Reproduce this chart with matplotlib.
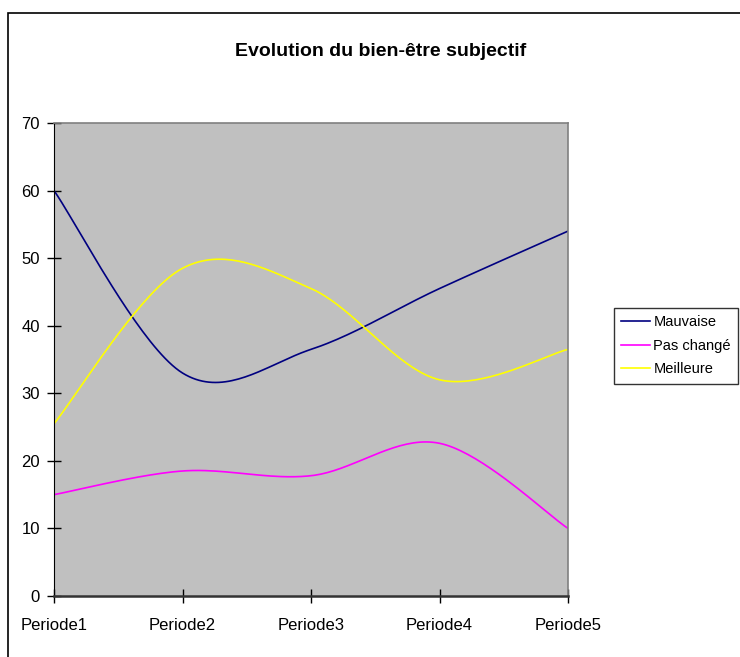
import numpy as np
import matplotlib
matplotlib.use('Agg')
import matplotlib.pyplot as plt
from matplotlib import font_manager
import matplotlib.patches as patches

# data
periods = ['Periode1', 'Periode2', 'Periode3', 'Periode4', 'Periode5']
mauvaise = [60, 33, 36.5, 45.5, 54]
pas_change = [15, 18.5, 17.8, 22.6, 10]
meilleure = [25.5, 48.5, 45.5, 32, 36.5]
series_names = ['Mauvaise', 'Pas changé', 'Meilleure']
series_colors = ['#000080', '#FF00FF', '#FFFF00']
yticks = [0, 10, 20, 30, 40, 50, 60, 70]

# pick a narrow Arial-like font if there is one
names = {f.name for f in font_manager.fontManager.ttflist}
family = 'Liberation Sans Narrow' if 'Liberation Sans Narrow' in names else 'Liberation Sans'
plt.rcParams['font.family'] = [family, 'DejaVu Sans']


def smooth(xs, ys, n=40):
    """Excel-style smoothed line: cubic Bezier with Catmull-Rom control points"""
    xs = np.asarray(xs, float)
    ys = np.asarray(ys, float)
    out_x, out_y = [], []
    t = np.linspace(0, 1, n)
    for i in range(len(xs) - 1):
        i0 = max(i - 1, 0)
        i3 = min(i + 2, len(xs) - 1)
        p0 = np.array([xs[i], ys[i]])
        p3 = np.array([xs[i + 1], ys[i + 1]])
        c1 = p0 + (p3 - np.array([xs[i0], ys[i0]])) / 6
        c2 = p3 - (np.array([xs[i3], ys[i3]]) - p0) / 6
        pts = ((1 - t)[:, None] ** 3 * p0 + 3 * ((1 - t) ** 2 * t)[:, None] * c1
               + 3 * ((1 - t) * t ** 2)[:, None] * c2 + (t ** 3)[:, None] * p3)
        out_x.extend(pts[:, 0])
        out_y.extend(pts[:, 1])
    return out_x, out_y


fig = plt.figure(figsize=(7.4, 6.57), dpi=100)
ax = fig.add_axes([54 / 740, 1 - 596 / 657, (568 - 54) / 740, (596 - 123) / 657])
ax.set_facecolor('#C0C0C0')

x = np.arange(len(periods))
for vals, name, col in zip([mauvaise, pas_change, meilleure], series_names, series_colors):
    sx, sy = smooth(x, vals)
    ax.plot(sx, sy, color=col, lw=1.2, label=name)

ax.set_xlim(0, len(periods) - 1)
ax.set_ylim(0, 70)
ax.set_xticks(x)
ax.set_xticklabels(periods)
ax.set_yticks(yticks)
ax.tick_params(axis='x', direction='inout', length=10, width=1, pad=11, labelsize=12)
ax.tick_params(axis='y', direction='inout', length=10, width=1, pad=5, labelsize=12)

for side in ['top', 'right']:
    ax.spines[side].set_color('#808080')
    ax.spines[side].set_linewidth(1.2)
ax.spines['left'].set_color('black')
ax.spines['bottom'].set_color('#333333')
ax.spines['bottom'].set_linewidth(1.8)

fig.text(381 / 740, 1 - 52 / 657, 'Evolution du bien-être subjectif',
         ha='center', va='center', fontsize=14, fontweight='bold')

leg = fig.legend(loc='upper left', bbox_to_anchor=(614 / 740, 1 - 308 / 657),
                 frameon=True, fancybox=False, fontsize=10.5, handlelength=2.0,
                 handletextpad=0.2, borderpad=0.5, labelspacing=0.65, borderaxespad=0)
leg.get_frame().set_edgecolor('black')
leg.get_frame().set_linewidth(1)

# outer chart border, runs past the right and bottom edges
fig.patches.append(patches.Rectangle((8 / 740, -0.05), 1.1, 1 - 13 / 657 + 0.05,
                                     transform=fig.transFigure, fill=False,
                                     edgecolor='black', linewidth=1.2))

fig.savefig('out.png', dpi=100)
